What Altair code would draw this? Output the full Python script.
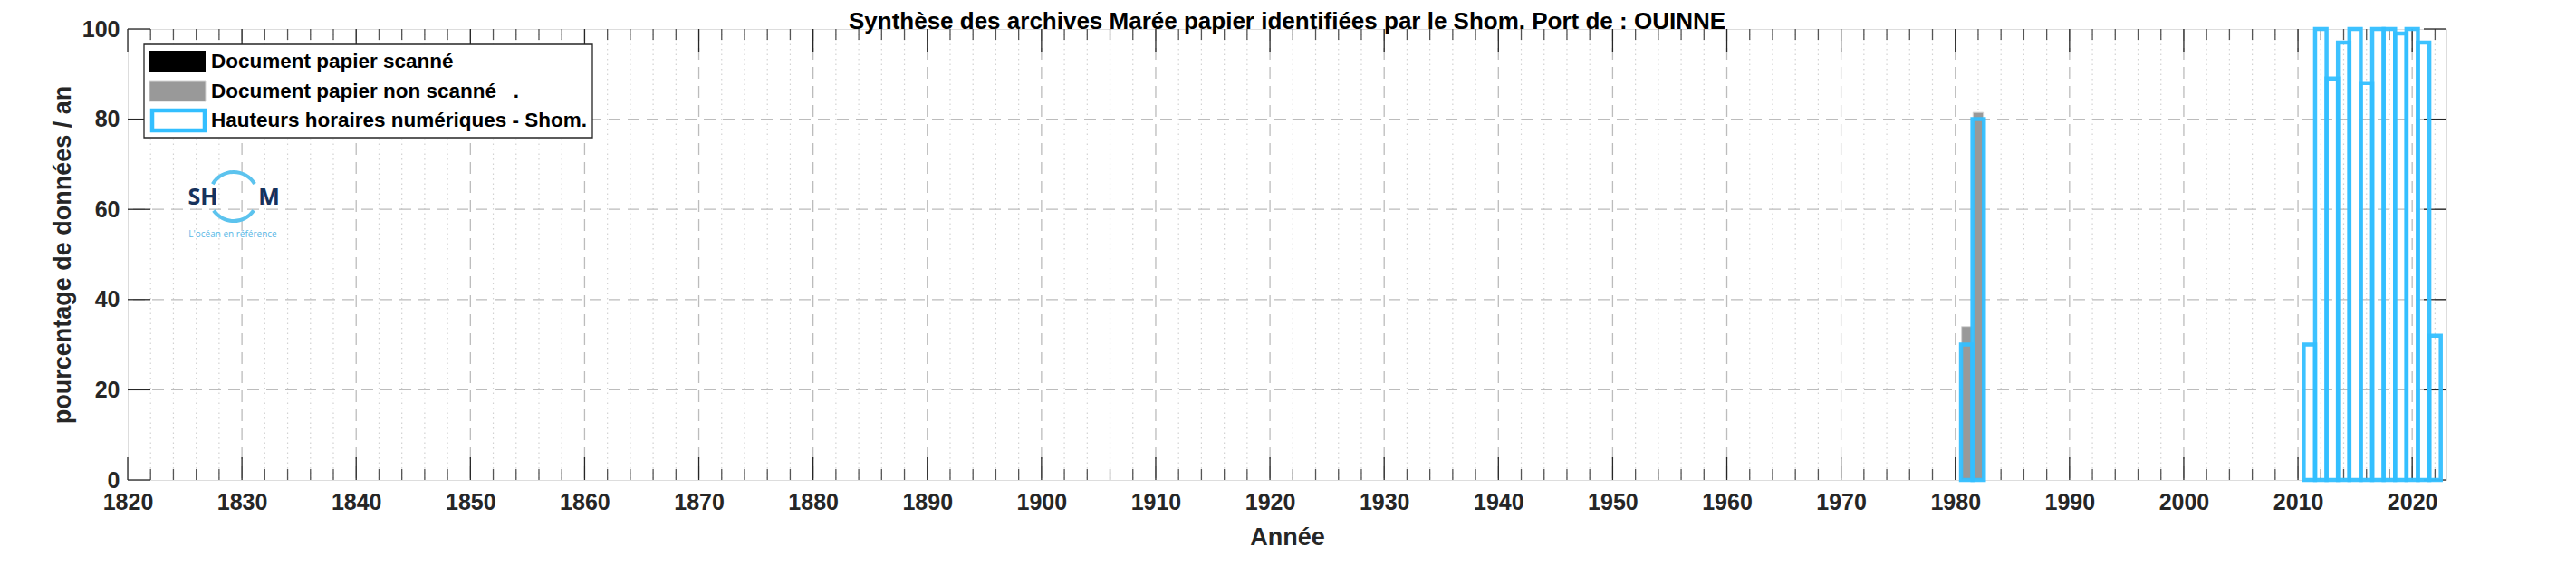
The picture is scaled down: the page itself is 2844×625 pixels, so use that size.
import altair as alt
import pandas as pd

# ---------------- data ----------------
title_text = "Synthèse des archives Marée papier identifiées par le Shom. Port de : OUINNE"
x_title = "Année"
y_title = "pourcentage de données / an"

legend_labels = [
    "Document papier scanné",
    "Document papier non scanné\u00a0\u00a0\u00a0.",
    "Hauteurs horaires numériques - Shom.",
]

# Document papier scanné (none for this port)
years_scan = []
pct_scan = []

# Document papier non scanné
years_nonscan = [1981, 1982]
pct_nonscan = [34, 81.5]

# Hauteurs horaires numériques - Shom
years_shom = [1981, 1982, 2011, 2012, 2013, 2014, 2015, 2016, 2017, 2018, 2019, 2020, 2021, 2022]
pct_shom = [30, 80, 30, 100, 89, 97, 100, 88, 100, 100, 99, 100, 97, 32]

x_major = list(range(1820, 2021, 10))
x_minor = [v for v in range(1822, 2023, 2) if v % 10 != 0]
y_major = [0, 20, 40, 60, 80, 100]
x_domain = [1820, 2023]
y_domain = [0, 100]

# ---------------- layout / style ----------------
W, H = 2560, 498
FONT = "Liberation Sans"
TXT = "#262626"
BLUE = "#33bfff"

xs = alt.Scale(domain=x_domain, nice=False, zero=False)
ys = alt.Scale(domain=y_domain, nice=False, zero=False)

x_axis = alt.Axis(values=x_major, format="d", title=x_title, ticks=False, domain=False,
                  grid=False, labelFont=FONT, labelFontSize=25, labelFontWeight="bold",
                  labelColor=TXT, labelPadding=12, labelFlush=False, labelOverlap=False,
                  titleFont=FONT, titleFontSize=27, titleFontWeight="bold", titleColor=TXT,
                  titleBaseline="middle", titleY=63)
y_axis = alt.Axis(values=y_major, format="d", title=y_title, ticks=False, domain=False,
                  grid=False, labelFont=FONT, labelFontSize=25, labelFontWeight="bold",
                  labelColor=TXT, labelPadding=9, labelFlush=False, labelOverlap=False,
                  titleFont=FONT, titleFontSize=27, titleFontWeight="bold", titleColor=TXT,
                  titleX=-58, titleY=H / 2, titleBaseline="bottom", titleAngle=270)


def X(field):
    return alt.X(f"{field}:Q", scale=xs, axis=x_axis)


def Y(field):
    return alt.Y(f"{field}:Q", scale=ys, axis=y_axis)


layers = []

# grid
df_xminor = pd.DataFrame({"x": x_minor})
df_xmajor = pd.DataFrame({"x": [v for v in x_major if v != x_domain[0]]})
df_ymajor = pd.DataFrame({"y": [v for v in y_major if v not in y_domain]})

layers.append(alt.Chart(df_xminor).mark_rule(color="#d2d2d2", strokeWidth=1.2,
                                             strokeDash=[1.5, 4]).encode(x=X("x")))
layers.append(alt.Chart(df_xmajor).mark_rule(color="#bcbcbc", strokeWidth=1.3,
                                             strokeDash=[13, 8]).encode(x=X("x")))
layers.append(alt.Chart(df_ymajor).mark_rule(color="#bcbcbc", strokeWidth=1.3,
                                             strokeDash=[13, 8]).encode(y=Y("y")))

# ticks (inward, on all four sides)
df_xt = pd.DataFrame({"x": x_major})
df_yt = pd.DataFrame({"y": y_major})
for y0, y1 in [(H, H - 25), (0, 25)]:
    layers.append(alt.Chart(df_xt).mark_rule(color=TXT, strokeWidth=1.3).encode(
        x=X("x"), y=alt.value(y0), y2=alt.value(y1)))
for y0, y1 in [(H, H - 12), (0, 12)]:
    layers.append(alt.Chart(df_xminor).mark_rule(color="#555555", strokeWidth=1.3).encode(
        x=X("x"), y=alt.value(y0), y2=alt.value(y1)))
for x0, x1 in [(0, 25), (W, W - 25)]:
    layers.append(alt.Chart(df_yt).mark_rule(color=TXT, strokeWidth=1.3).encode(
        y=Y("y"), x=alt.value(x0), x2=alt.value(x1)))

# bars
if years_scan:
    df_scan = pd.DataFrame({"year": years_scan, "pct": pct_scan})
    df_scan["x0"] = df_scan["year"] - 0.45
    df_scan["x1"] = df_scan["year"] + 0.45
    df_scan["base"] = 0
    layers.append(alt.Chart(df_scan).mark_rect(color="black").encode(
        x=X("x0"), x2="x1", y=Y("pct"), y2="base"))

df_non = pd.DataFrame({"year": years_nonscan, "pct": pct_nonscan})
df_non["x0"] = df_non["year"] - 0.45
df_non["x1"] = df_non["year"] + 0.45
df_non["base"] = 0
layers.append(alt.Chart(df_non).mark_rect(fill="#999999", stroke="#d4d4d4",
                                          strokeWidth=1).encode(
    x=X("x0"), x2="x1", y=Y("pct"), y2="base"))

df_shom = pd.DataFrame({"year": years_shom, "pct": pct_shom})
df_shom["x0"] = df_shom["year"] - 0.5
df_shom["x1"] = df_shom["year"] + 0.5
df_shom["base"] = 0
layers.append(alt.Chart(df_shom).mark_rect(fill="white", fillOpacity=0, stroke=BLUE,
                                           strokeWidth=4.5, strokeOpacity=0.95).encode(
    x=X("x0"), x2="x1", y=Y("pct"), y2="base"))

# legend (manual, as in the original figure)
one = pd.DataFrame({"k": [0]})
layers.append(alt.Chart(one).mark_rect(fill="white", stroke="#262626", strokeWidth=1.3).encode(
    x=alt.value(18), x2=alt.value(513), y=alt.value(17), y2=alt.value(120)))
layers.append(alt.Chart(one).mark_rect(fill="black").encode(
    x=alt.value(24), x2=alt.value(86), y=alt.value(24), y2=alt.value(47)))
layers.append(alt.Chart(one).mark_rect(fill="#999999", stroke="#d4d4d4", strokeWidth=1).encode(
    x=alt.value(24), x2=alt.value(86), y=alt.value(57), y2=alt.value(80)))
layers.append(alt.Chart(one).mark_rect(fill="white", stroke=BLUE, strokeWidth=4.5).encode(
    x=alt.value(27), x2=alt.value(85), y=alt.value(90), y2=alt.value(112)))
for i, lab in enumerate(legend_labels):
    layers.append(alt.Chart(pd.DataFrame({"t": [lab]})).mark_text(
        align="left", baseline="middle", font=FONT, fontSize=22.5, fontWeight="bold",
        color="black").encode(x=alt.value(92), y=alt.value(36 + 32.5 * i), text="t:N"))

# logo
layers.append(alt.Chart(one).mark_arc(theta=5.25, theta2=7.31, radius=29, radius2=25,
                                      color="#5cc3ee").encode(x=alt.value(117), y=alt.value(185)))
layers.append(alt.Chart(one).mark_arc(theta=2.18, theta2=4.1, radius=29, radius2=25,
                                      color="#5cc3ee").encode(x=alt.value(117), y=alt.value(185)))
layers.append(alt.Chart(pd.DataFrame({"t": ["SH"]})).mark_text(
    align="center", baseline="middle", font="Open Sans", fontSize=25, fontWeight="bold",
    color="#16325c").encode(x=alt.value(83), y=alt.value(186), text="t:N"))
layers.append(alt.Chart(pd.DataFrame({"t": ["M"]})).mark_text(
    align="center", baseline="middle", font="Open Sans", fontSize=25, fontWeight="bold",
    color="#16325c").encode(x=alt.value(156), y=alt.value(186), text="t:N"))
layers.append(alt.Chart(pd.DataFrame({"t": ["L'océan en référence"]})).mark_text(
    align="center", baseline="middle", font="Open Sans", fontSize=10,
    color="#5ab8e6").encode(x=alt.value(116), y=alt.value(227), text="t:N"))

chart = alt.layer(*layers).properties(
    width=W, height=H,
    title=alt.TitleParams(title_text, font=FONT, fontSize=26, fontWeight="bold",
                          color="black", anchor="middle", offset=5, dy=21.5),
    autosize=alt.AutoSizeParams(type="none"),
    padding={"left": 133, "top": 24, "right": 100, "bottom": 80},
).configure_view(stroke="#262626", strokeWidth=1.5).configure(background="white")

chart.save("out.html", embed_options={"renderer": "svg", "actions": False})
